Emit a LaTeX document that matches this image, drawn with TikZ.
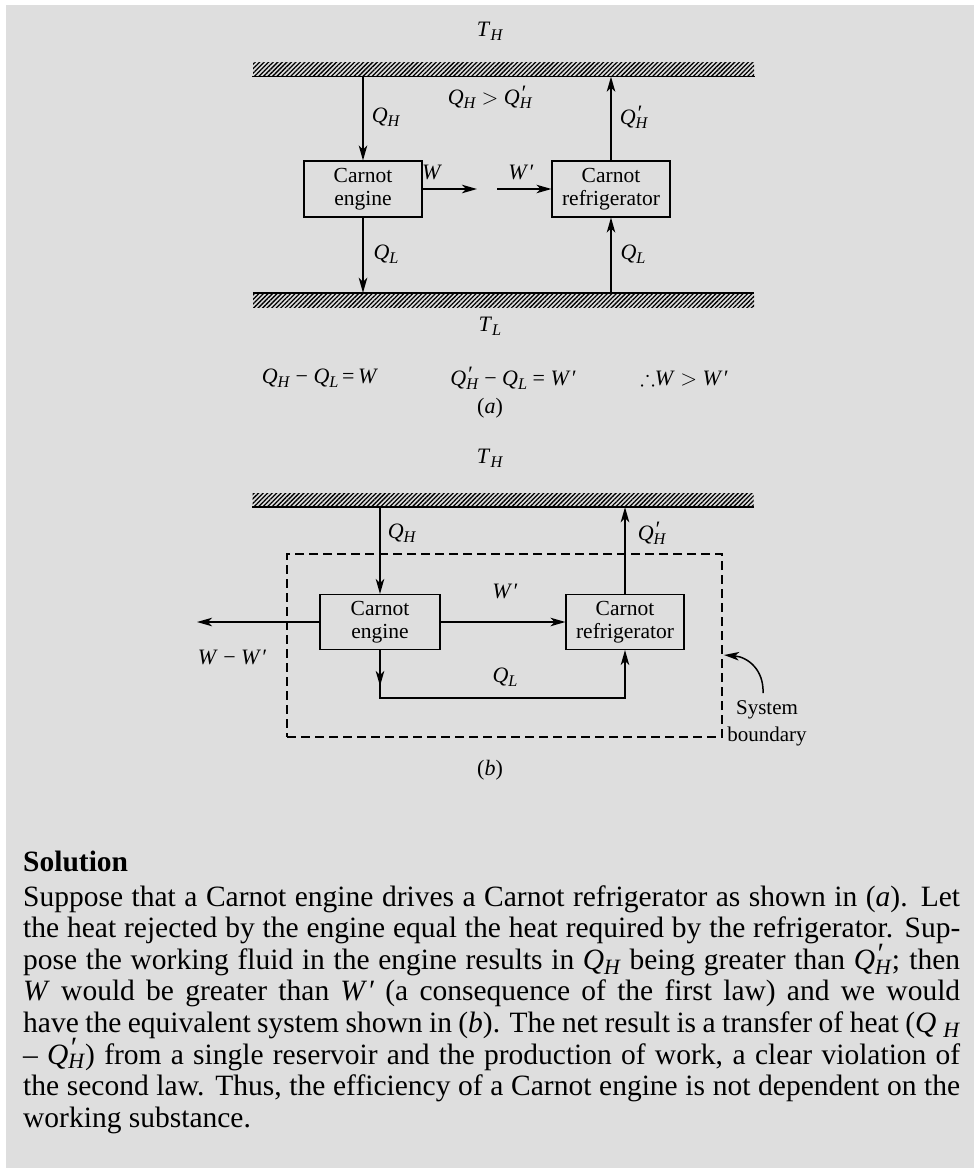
\RequirePackage{fix-cm}
\documentclass[tikz,border=0pt]{standalone}
\usepackage{fontspec}
\setmainfont{Liberation Serif}
\usepackage{amssymb}
\usepackage{graphicx}
\usetikzlibrary{arrows.meta,patterns.meta}

\definecolor{bgray}{RGB}{222,222,222}

\newcommand{\sbsc}[1]{\raisebox{-0.36ex}{\scalebox{0.74}{\textit{#1}}}}
\newcommand{\prmk}{\textit{′}}
\newcommand{\Qsub}[1]{\textit{Q}\sbsc{#1}}
\newcommand{\Qpsub}[1]{\textit{Q}\rlap{\kern0.6pt\raisebox{0.45ex}{\prmk}}\sbsc{#1}}
\newcommand{\Wpr}{\textit{W}\prmk}

\tikzset{
  arr/.style={line width=1.7pt, -{Stealth[length=15pt,width=8.5pt,inset=4pt]}},
  boxn/.style={draw, line width=1.1pt, minimum width=118pt, minimum height=56pt,
    align=center, font=\fontsize{21.5}{23.5}\selectfont, inner sep=0pt},
  lbl/.style={font=\fontsize{22}{26}\selectfont, inner sep=0pt},
  hatchbar/.style={pattern={Lines[angle=45,distance=3.2pt,line width=1.3pt]},
    draw=none, minimum width=501pt, minimum height=14pt, inner sep=0pt},
  sysbox/.style={draw, line width=1.1pt, dash pattern=on 9pt off 5pt, inner sep=0pt},
  body/.style={font=\fontsize{29.5}{32.5}\selectfont, inner sep=0pt, anchor=base west},
}

\begin{document}
\begin{tikzpicture}[x=1pt,y=-1pt]
\useasboundingbox (0,0) rectangle (974,1168);
\fill[white] (0,0) rectangle (974,1168);
\fill[bgray] (6,5) rectangle (974,1168);

% ---------------- part (a) ----------------
\node[lbl] (thA) at (490,31) {\textit{T}\sbsc{H}};
\node[hatchbar] (barHa) at (503.5,69) {};
\draw[line width=1.5pt] (barHa.south west) -- (barHa.south east);
\node[hatchbar] (barLa) at (503.5,300) {};
\draw[line width=1.5pt] (barLa.north west) -- (barLa.north east);

\node[boxn] (engA) at (363,189) {Carnot\\engine};
\node[boxn] (refA) at (611,189) {Carnot\\refrigerator};

\draw[arr] (engA |- barHa.south) -- (engA.north);
\draw[arr] (engA.south) -- (engA |- barLa.north);
\draw[arr] (refA.north) -- (refA |- barHa.south);
\draw[arr] (refA |- barLa.north) -- (refA.south);

\coordinate (wEnd) at (477,189);
\coordinate (wpStart) at (497,189);
\draw[arr] (engA.east) -- (wEnd);
\draw[arr] (wpStart) -- (refA.west);

\node[lbl] (cmpA) at (490,97) {\Qsub{H} $>$ \Qpsub{H}};
\node[lbl] (qhA) at (386,117) {\Qsub{H}};
\node[lbl] (qphA) at (634,117) {\Qpsub{H}};
\node[lbl] (wA) at (432,172) {\textit{W}};
\node[lbl] (wpA) at (521,172) {\Wpr};
\node[lbl] (qlA) at (386,254) {\Qsub{L}};
\node[lbl] (qlA2) at (633,254) {\Qsub{L}};
\node[lbl] (tlA) at (490,326) {\textit{T}\sbsc{L}};

\node[lbl] (eq1) at (320,378) {\Qsub{H} − \Qsub{L}\,=\,\textit{W}};
\node[lbl] (eq2) at (513,378) {\Qpsub{H} − \Qsub{L} = \Wpr};
\node[lbl] (eq3) at (684,378) {$\therefore$\textit{W} $>$ \Wpr};
\node[lbl] (capA) at (490,408) {(\textit{a})};

% ---------------- part (b) ----------------
\node[lbl] (thB) at (490,458) {\textit{T}\sbsc{H}};
\node[hatchbar] (barHb) at (503,500) {};
\draw[line width=1.5pt] (barHb.south west) -- (barHb.south east);

\node[sysbox, minimum width=435pt, minimum height=183pt] (sysB) at (504.5,645.5) {};

\node[boxn, minimum width=120pt, minimum height=55pt] (engB) at (380,622) {Carnot\\engine};
\node[boxn, minimum height=55pt] (refB) at (625,622) {Carnot\\refrigerator};

\draw[arr] (engB |- barHb.south) -- (engB.north);
\draw[arr] (refB.north) -- (refB |- barHb.south);
\draw[arr] (engB.east) -- (refB.west);
\coordinate (wOut) at (197,622);
\draw[arr] (engB.west) -- (wOut);

\coordinate (qlC1) at (380,698);
\coordinate (qlC2) at (625,698);
\coordinate (qlTip) at (380,686);
\draw[arr] (engB.south) -- (qlC1) -- (qlC2) -- (refB.south);
\draw[arr] (engB.south) -- (qlTip);

\node[lbl] (qhB) at (402,533) {\Qsub{H}};
\node[lbl] (qphB) at (652,533) {\Qpsub{H}};
\node[lbl] (wpB) at (505,591) {\Wpr};
\node[lbl] (wmw) at (232,657) {\textit{W} − \Wpr};
\node[lbl] (qlB) at (505,677) {\Qsub{L}};

\coordinate (sysTail) at (763,693);
\coordinate (sysHead) at (724,655);
\draw[arr, line width=1.5pt] (sysTail) .. controls (764,670) and (748,657) .. (sysHead);
\node[lbl, align=center, font=\fontsize{21}{27}\selectfont] (sysLbl) at (767,723) {System\\boundary};
\node[lbl] (capB) at (490,770) {(\textit{b})};

% ---------------- text ----------------
\node[body, font=\fontsize{29.5}{32.5}\selectfont\bfseries] (solT) at (23,871) {Solution};
\node[body] (ln1) at (23,906) {\makebox[937pt][s]{Suppose that a Carnot engine drives a Carnot refrigerator as shown in (\textit{a}). Let}};
\node[body] (ln2) at (23,937.6) {\makebox[937pt][s]{the heat rejected by the engine equal the heat required by the refrigerator. Sup-}};
\node[body] (ln3) at (23,969.2) {\makebox[937pt][s]{pose the working fluid in the engine results in \Qsub{H} being greater than \Qpsub{H}; then}};
\node[body] (ln4) at (23,1000.8) {\makebox[937pt][s]{\textit{W} would be greater than \Wpr{} (a consequence of the first law) and we would}};
\node[body] (ln5) at (23,1032.4) {\makebox[937pt][s]{have the equivalent system shown in (\textit{b}). The net result is a transfer of heat (\textit{Q}\kern7pt\sbsc{H}}};
\node[body] (ln6) at (23,1064) {\makebox[937pt][s]{– \Qpsub{H}) from a single reservoir and the production of work, a clear violation of}};
\node[body] (ln7) at (23,1095.6) {\makebox[937pt][s]{the second law. Thus, the efficiency of a Carnot engine is not dependent on the}};
\node[body] (ln8) at (23,1127.2) {working substance.};
\end{tikzpicture}
\end{document}
